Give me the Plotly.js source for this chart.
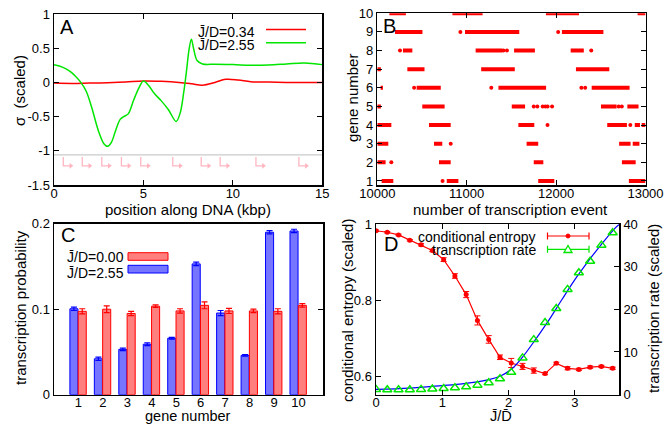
<!DOCTYPE html>
<html><head><meta charset="utf-8">
<script src="https://cdn.plot.ly/plotly-3.0.1.min.js"></script>
<style>html,body{margin:0;padding:0;background:#fff}#p{width:668px;height:424px}</style>
</head><body><div id="p"></div>
<script>
// ---------- Panel A data ----------
const aGreenX = [0,0.5,0.9,1.2,1.5,1.8,2.1,2.5,2.8,3.0,3.2,3.45,3.7,3.9,4.15,4.45,4.75,5.0,5.3,5.6,6.0,6.4,6.83,7.05,7.25,7.4,7.55,7.68,7.8,8.0,8.3,9,10,11,12,13,14,15];
const aGreenY = [0.257,0.22,0.16,0.09,0.0,-0.13,-0.36,-0.72,-0.9,-0.935,-0.88,-0.70,-0.54,-0.50,-0.46,-0.26,-0.08,0.02,-0.05,-0.16,-0.27,-0.40,-0.57,-0.45,-0.15,0.15,0.48,0.63,0.50,0.32,0.27,0.265,0.26,0.25,0.255,0.27,0.285,0.26];
const aRedX = [0,1,2,3,4,5,6,7,7.7,8.3,9,9.6,10.3,11,12,13,14,15];
const aRedY = [-0.01,-0.015,-0.01,-0.005,0.005,0.02,0.015,0.0,-0.02,-0.04,0.0,0.045,0.035,0.01,0.005,0.0,0.0,0.0];
const genePositions = [0.52,1.58,2.67,3.77,4.85,6.64,8.23,9.29,11.29,13.69];
const dnaLevel = -1.06;

// ---------- Panel B data ----------
const segGene  = [10,10,10,10, 9,9,9, 8,8,8,8, 7,7,7,7, 6,6,6,6, 5,5,5,5,5, 4,4,4,4,4,4, 3,3,3,3,3, 2,2,2,2, 1,1,1,1];
const segStart = [10135,10840,11886,12912, 10198,10981,12065, 10287,11100,11530,12163, 10000,10336,11162,12222, 10037,10440,11355,12398, 10000,10503,11504,12502,12797, 10000,10578,11578,12572,12880,12957, 10000,10634,11670,12705,12857, 10000,10690,11750,12736, 10049,10777,11800,12814];
const segEnd   = [10320,11178,12256,13000, 10505,11588,12529, 10392,11398,11763,12310, 10040,10528,11538,12595, 10063,10710,11888,12822, 10040,10753,11653,12677,12922, 10157,10821,11756,12792,12938,13000, 10123,10727,11800,12833,12932, 10093,10821,11857,12890, 10179,10907,11980,13000];
const dotGene = [9,9, 8,8,8,8, 6,6,6,6, 5,5,5,5,5,5,5,5, 4,4, 3, 2, 1];
const dotX    = [10929,12023, 10254,11411,11450,12393, 10412,11275,12283,12325, 11750,11790,11850,11880,11905,11955,12700,12735, 11904,12830, 10821, 10157, 10730];

// ---------- Panel C data ----------
const genes = [1,2,3,4,5,6,7,8,9,10];
const probJ255 = [0.1005,0.042,0.053,0.059,0.066,0.153,0.0955,0.046,0.190,0.1915];
const errJ255  = [0.002,0.002,0.0015,0.0015,0.001,0.002,0.003,0.001,0.002,0.002];
const probJ000 = [0.0975,0.100,0.095,0.1035,0.098,0.1045,0.098,0.098,0.0975,0.1045];
const errJ000  = [0.003,0.004,0.0025,0.0015,0.0025,0.004,0.003,0.002,0.003,0.002];

// ---------- Panel D data ----------
const jd = [0,0.17,0.34,0.51,0.68,0.85,1.02,1.19,1.36,1.53,1.70,1.87,2.04,2.21,2.38,2.55,2.72,2.89,3.06,3.23,3.40,3.57];
const condEntropy = [0.983,0.979,0.972,0.958,0.946,0.931,0.907,0.864,0.815,0.747,0.697,0.650,0.635,0.626,0.615,0.607,0.634,0.621,0.618,0.624,0.626,0.621];
const condEntropyErr = [0.002,0.002,0.002,0.002,0.003,0.003,0.005,0.006,0.008,0.012,0.010,0.006,0.012,0.008,0.007,0.003,0.003,0.004,0.003,0.003,0.003,0.003];
const txRate = [1.2,1.1,1.1,1.1,1.2,1.3,1.4,1.6,1.8,2.2,2.75,3.7,5.2,8.6,12.9,16.9,20.2,24.7,28.6,31.3,35.1,38.0];
const fitX = [0,0.5,1.0,1.3,1.5,1.7,1.87,2.04,2.21,2.4,2.6,2.8,3.0,3.2,3.4,3.6,3.67];
const fitY = [1.2,1.5,2.1,2.5,2.9,3.5,4.3,5.9,8.8,12.8,17.3,22.2,27.0,31.3,35.3,39.0,40.0];

// ---------- helpers ----------
const W = 668, H = 424;
const fx = p => p / W;
const fy = p => 1 - p / H;
const FONT = 'Liberation Sans, Arial, sans-serif';
const RED = 'rgb(255,0,0)', GREEN = 'rgb(0,230,0)', BLUE = 'rgb(0,0,255)';

function arrowsPath(pos) {
  const x = [], y = [];
  pos.forEach(p => { x.push(p, p, p + 0.42, null); y.push(-1.09, -1.22, -1.22, null); });
  return {x, y};
}
const ap = arrowsPath(genePositions);

function segPath() {
  const x = [], y = [];
  for (let i = 0; i < segGene.length; i++) { x.push(segStart[i], segEnd[i], null); y.push(segGene[i], segGene[i], null); }
  return {x, y};
}
const sp = segPath();

const traces = [
  // Panel A
  {x: aRedX, y: aRedY, xaxis: 'x', yaxis: 'y', mode: 'lines', line: {color: RED, width: 1.5, shape: 'spline'}, hoverinfo: 'skip'},
  {x: aGreenX, y: aGreenY, xaxis: 'x', yaxis: 'y', mode: 'lines', line: {color: GREEN, width: 1.5, shape: 'spline', smoothing: 1}, hoverinfo: 'skip'},
  {x: [0, 15], y: [dnaLevel, dnaLevel], xaxis: 'x', yaxis: 'y', mode: 'lines', line: {color: 'rgb(190,190,190)', width: 1}},
  {x: ap.x, y: ap.y, xaxis: 'x', yaxis: 'y', mode: 'lines', line: {color: 'rgb(255,182,193)', width: 1.3}},
  {x: genePositions.map(p => p + 0.42), y: genePositions.map(() => -1.22), xaxis: 'x', yaxis: 'y', mode: 'markers',
   marker: {symbol: 'triangle-right', size: 5, color: 'rgb(255,182,193)'}},
  // Panel B
  {x: sp.x, y: sp.y, xaxis: 'x2', yaxis: 'y2', mode: 'lines', line: {color: RED, width: 4}},
  {x: dotX, y: dotGene, xaxis: 'x2', yaxis: 'y2', mode: 'markers', marker: {color: RED, size: 4, symbol: 'circle'}},
  // Panel C
  {type: 'bar', x: genes, y: probJ255, xaxis: 'x3', yaxis: 'y3', width: 0.33, offset: -0.35,
   marker: {color: 'rgba(110,110,255,0.95)', line: {color: BLUE, width: 1}},
   error_y: {type: 'data', array: errJ255, color: BLUE, thickness: 1.2, width: 3}},
  {type: 'bar', x: genes, y: probJ000, xaxis: 'x3', yaxis: 'y3', width: 0.33, offset: -0.01,
   marker: {color: 'rgba(255,120,120,0.95)', line: {color: RED, width: 1}},
   error_y: {type: 'data', array: errJ000, color: RED, thickness: 1.2, width: 3}},
  // Panel D
  {x: fitX, y: fitY, xaxis: 'x4', yaxis: 'y5', mode: 'lines', line: {color: BLUE, width: 1.2, shape: 'spline'}},
  {x: jd, y: txRate, xaxis: 'x4', yaxis: 'y5', mode: 'markers', marker: {symbol: 'triangle-up-open', size: 8, color: GREEN, line: {width: 1.5, color: GREEN}}},
  {x: jd, y: condEntropy, xaxis: 'x4', yaxis: 'y4', mode: 'lines+markers', line: {color: RED, width: 1.2},
   marker: {symbol: 'circle', size: 5, color: RED},
   error_y: {type: 'data', array: condEntropyErr, color: RED, thickness: 1, width: 3}}
];

const axBase = {showgrid: false, zeroline: false, showline: true, linecolor: 'black', linewidth: 1.5,
  ticks: 'inside', ticklen: 5, tickwidth: 1, tickcolor: 'black', mirror: 'ticks',
  tickfont: {family: FONT, size: 13, color: 'black'}, fixedrange: true};

const layout = {
  width: W, height: H, margin: {l: 0, r: 0, t: 0, b: 0}, showlegend: false,
  paper_bgcolor: 'white', plot_bgcolor: 'rgba(0,0,0,0)', font: {family: FONT, color: 'black'},
  xaxis: Object.assign({}, axBase, {domain: [fx(54), fx(322.3)], range: [0, 15], tickvals: [0,5,10,15], anchor: 'y', ticklabelstandoff: -4}),
  yaxis: Object.assign({}, axBase, {domain: [fy(185), fy(14)], range: [-1.5, 1], tickvals: [-1.5,-1,-0.5,0,0.5,1],
    ticktext: ['-1.5','-1','-0.5','0','0.5','1'], anchor: 'x'}),
  xaxis2: Object.assign({}, axBase, {domain: [fx(377.3), fx(645.5)], range: [10000, 13000], tickvals: [10000,11000,12000,13000],
    ticktext: ['10000','11000','12000','13000'], anchor: 'y2', ticklabelstandoff: -4}),
  yaxis2: Object.assign({}, axBase, {domain: [fy(185), fy(13.3)], range: [0.785, 10], tickvals: [1,2,3,4,5,6,7,8,9,10], anchor: 'x2'}),
  xaxis3: Object.assign({}, axBase, {domain: [fx(54), fx(323)], range: [0, 11], tickvals: genes, anchor: 'y3', ticks: '', ticklabelstandoff: -5}),
  yaxis3: Object.assign({}, axBase, {domain: [fy(394.7), fy(223.7)], range: [0, 0.2], tickvals: [0, 0.1, 0.2], anchor: 'x3'}),
  xaxis4: Object.assign({}, axBase, {domain: [fx(376), fx(619.3)], range: [0, 3.67], tickvals: [0,1,2,3], anchor: 'y4', ticklabelstandoff: -5}),
  yaxis4: Object.assign({}, axBase, {domain: [fy(394.5), fy(224.3)], range: [0.552, 1], tickvals: [0.6, 0.8, 1], mirror: false, anchor: 'x4'}),
  yaxis5: Object.assign({}, axBase, {domain: [fy(394.5), fy(224.3)], range: [0, 40], tickvals: [0,10,20,30,40], mirror: false,
    overlaying: 'y4', side: 'right', anchor: 'x4'}),
  shapes: [
    // legend A
    {type: 'line', xref: 'paper', yref: 'paper', x0: fx(266), x1: fx(306), y0: fy(29.5), y1: fy(29.5), line: {color: RED, width: 1.5}},
    {type: 'line', xref: 'paper', yref: 'paper', x0: fx(266), x1: fx(306), y0: fy(42.7), y1: fy(42.7), line: {color: GREEN, width: 1.5}},
    // legend C
    {type: 'rect', xref: 'paper', yref: 'paper', x0: fx(128), x1: fx(168), y0: fy(260.3), y1: fy(252.7), fillcolor: 'rgba(255,120,120,0.95)', line: {color: RED, width: 1}},
    {type: 'rect', xref: 'paper', yref: 'paper', x0: fx(128), x1: fx(168), y0: fy(273), y1: fy(265.3), fillcolor: 'rgba(110,110,255,0.95)', line: {color: BLUE, width: 1}},
    // legend D
    {type: 'line', xref: 'paper', yref: 'paper', x0: fx(547.5), x1: fx(589), y0: fy(236), y1: fy(236), line: {color: RED, width: 1.2}},
    {type: 'line', xref: 'paper', yref: 'paper', x0: fx(547.5), x1: fx(547.5), y0: fy(232.5), y1: fy(239.5), line: {color: RED, width: 1.2}},
    {type: 'line', xref: 'paper', yref: 'paper', x0: fx(589), x1: fx(589), y0: fy(232.5), y1: fy(239.5), line: {color: RED, width: 1.2}},
    {type: 'circle', xref: 'paper', yref: 'paper', x0: fx(566), x1: fx(570), y0: fy(238), y1: fy(234), fillcolor: RED, line: {color: RED, width: 1}},
    {type: 'line', xref: 'paper', yref: 'paper', x0: fx(547.5), x1: fx(589), y0: fy(249.3), y1: fy(249.3), line: {color: GREEN, width: 1.2}},
    {type: 'line', xref: 'paper', yref: 'paper', x0: fx(547.5), x1: fx(547.5), y0: fy(245.8), y1: fy(252.8), line: {color: GREEN, width: 1.2}},
    {type: 'line', xref: 'paper', yref: 'paper', x0: fx(589), x1: fx(589), y0: fy(245.8), y1: fy(252.8), line: {color: GREEN, width: 1.2}},
    {type: 'path', xref: 'paper', yref: 'paper', path: 'M ' + fx(564) + ' ' + fy(252.5) + ' L ' + fx(572) + ' ' + fy(252.5) + ' L ' + fx(568) + ' ' + fy(245.5) + ' Z',
     fillcolor: 'white', line: {color: GREEN, width: 1.3}}
  ],
  annotations: []
};

function ann(text, x, y, opts) {
  layout.annotations.push(Object.assign({text: text, xref: 'paper', yref: 'paper', x: fx(x), y: fy(y), showarrow: false,
    xanchor: 'center', yanchor: 'middle', font: {family: FONT, size: 15, color: 'black'}}, opts || {}));
}
// axis titles
ann('position along DNA (kbp)', 188, 209);
ann('σ  (scaled)', 19, 91, {textangle: -90});
ann('number of transcription event', 511, 209);
ann('gene number', 352, 98, {textangle: -90});
ann('gene number', 188, 416, {font: {family: FONT, size: 14.5, color: 'black'}});
ann('transcription probability', 20, 308, {textangle: -90});
ann('J̄/D̄', 501, 416, {font: {family: FONT, size: 14.5, color: 'black'}});
ann('conditional entropy (scaled)', 347, 311, {textangle: -90});
ann('transcription rate (scaled)', 653, 309, {textangle: -90});
// panel letters
ann('A', 67, 27, {font: {family: FONT, size: 20, color: 'black'}});
ann('B', 389, 26, {font: {family: FONT, size: 20, color: 'black'}});
ann('C', 68, 235, {font: {family: FONT, size: 20, color: 'black'}});
ann('D', 391, 244, {font: {family: FONT, size: 20, color: 'black'}});
// legends text
ann('J̄/D=0.34', 257, 31.5, {xanchor: 'right', font: {family: FONT, size: 14, color: 'black'}});
ann('J̄/D=2.55', 257, 45, {xanchor: 'right', font: {family: FONT, size: 14, color: 'black'}});
ann('J̄/D=0.00', 65, 257, {xanchor: 'left', font: {family: FONT, size: 14, color: 'black'}});
ann('J̄/D=2.55', 65, 273, {xanchor: 'left', font: {family: FONT, size: 14, color: 'black'}});
ann('conditional entropy', 538, 237, {xanchor: 'right', font: {family: FONT, size: 14, color: 'black'}});
ann('transcription rate', 538, 250, {xanchor: 'right', font: {family: FONT, size: 14, color: 'black'}});

Plotly.newPlot('p', traces, layout, {staticPlot: true, displayModeBar: false});
</script>
</body></html>
